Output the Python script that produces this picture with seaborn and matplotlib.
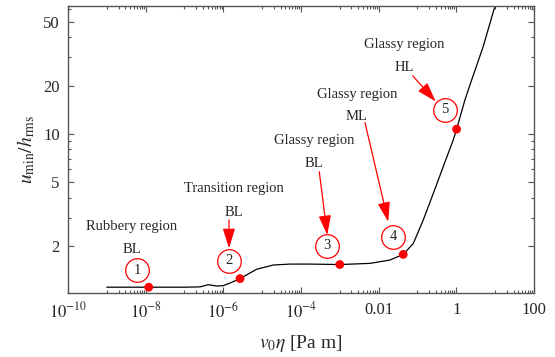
import seaborn as sns
import matplotlib.pyplot as plt
import numpy as np

# curva (log10 da velocidade*viscosidade, u_min/h_rms)
log_x = [-9.0, -8.0, -7.0, -6.6, -6.39, -6.17, -6.0, -5.8, -5.57, -5.14, -4.71,
         -4.28, -3.77, -3.0, -2.22, -1.71, -1.365, -1.107, -0.85, -0.59, -0.335,
         -0.077, 0.01, 0.224, 0.353, 0.695, 0.97, 1.015]
u_ratio = [1.105, 1.105, 1.105, 1.11, 1.145, 1.124, 1.13, 1.18, 1.25, 1.43, 1.52,
           1.54, 1.54, 1.53, 1.556, 1.632, 1.77, 2.07, 2.90, 4.26, 6.25,
           9.17, 10.7, 16.3, 20.2, 35.1, 59.6, 63.0]

# pontos vermelhos
dot_x = [1.2e-8, 2.7e-6, 1.0e-3, 0.043, 1.02]
dot_y = [1.105, 1.25, 1.53, 1.77, 10.7]

# numeros circulados
circ_labels = ['1', '2', '3', '4', '5']
circ_x = [6.0e-9, 1.4e-6, 4.7e-4, 0.0234, 0.51]
circ_y = [1.413, 1.62, 2.0, 2.28, 14.1]

# textos das regioes
region_labels = ['Rubbery region', 'Transition region', 'Glassy region', 'Glassy region', 'Glassy region']
region_x = [10**-8.35, 10**-5.725, 10**-3.665, 10**-2.557, 10**-1.347]
region_y = [2.64, 4.53, 9.04, 17.5, 36.0]
load_labels = ['BL', 'BL', 'BL', 'ML', 'HL']
load_y = [1.91, 3.25, 6.5, 12.8, 25.9]

# setas (inicio -> ponta), sem seta para o 1
arrow_start = [(10**-5.854, 10**0.4625), (10**-3.528, 10**0.764), (10**-2.351, 10**1.0706), (10**-1.123, 10**1.3625)]
arrow_tip = [(10**-5.854, 10**0.2875), (10**-3.322, 10**0.369), (10**-1.751, 10**0.452), (10**-0.53, 10**1.2019)]

xticks = [1e-10, 1e-8, 1e-6, 1e-4, 1e-2, 1, 100]
xtick_labels = [r'$10^{-10}$', r'$10^{-8}$', r'$10^{-6}$', r'$10^{-4}$', '0.01', '1', '100']
yticks = [2, 5, 10, 20, 50]
ytick_labels = ['2', '5', '10', '20', '50']

sns.set_style('ticks')
plt.rcParams['font.family'] = ['Liberation Serif', 'DejaVu Serif']
plt.rcParams['mathtext.fontset'] = 'stix'

fig = plt.figure(figsize=(5.55, 3.57), dpi=100)
ax = fig.add_axes([0.1225, 0.178, 0.8395, 0.806])
ax.set_xscale('log')
ax.set_yscale('log')

sns.lineplot(x=10.0 ** np.array(log_x), y=u_ratio, color='black', lw=0.9, sort=False, ax=ax)
sns.scatterplot(x=dot_x, y=dot_y, color='red', s=40, edgecolor='none', zorder=5, ax=ax)

for lab, cx, cy in zip(circ_labels, circ_x, circ_y):
    ax.plot(cx, cy, 'o', ms=17, mfc='white', mec='red', mew=0.9, zorder=4)
    ax.text(cx, cy, lab, ha='center', va='center', fontsize=10.5, zorder=6)

for lab, rx, ry, ll, ly in zip(region_labels, region_x, region_y, load_labels, load_y):
    ax.text(rx, ry, lab, ha='center', va='center', fontsize=10.5)
    ax.text(rx, ly, ll, ha='center', va='center', fontsize=10.5)

for s, t in zip(arrow_start, arrow_tip):
    ax.annotate('', xy=t, xytext=s,
                arrowprops=dict(arrowstyle='-|>,head_length=1.2,head_width=0.38',
                                mutation_scale=10, color='red', lw=0.9,
                                shrinkA=0, shrinkB=0))

ax.set_xlim(1e-10, 100)
ax.set_ylim(1.01, 63)
ax.set_xticks(xticks, xtick_labels)
minor_x = [k * 10.0 ** d for d in [-9, -7, -5, -3, -1, 1] for k in range(1, 10)]
ax.set_xticks(minor_x, minor=True)
ax.set_yticks(yticks, ytick_labels)
ax.set_yticks([3, 4, 6, 7, 8, 9, 30, 40, 60], minor=True)
ax.tick_params(axis='both', which='both', direction='in', top=True, right=True,
               color='#555555', labelsize=12, width=0.8)
ax.tick_params(which='major', length=4, pad=6)
ax.tick_params(which='minor', length=2, labelleft=False, labelbottom=False)
for sp in ax.spines.values():
    sp.set_color('#555555')
    sp.set_linewidth(1.0)

ax.set_xlabel(r'$v_0\eta$ [Pa m]', fontsize=14, labelpad=8)
ax.set_ylabel(r'$u_{\mathrm{min}}/h_{\mathrm{rms}}$', fontsize=14, labelpad=4)

fig.savefig('out.png', dpi=100)
